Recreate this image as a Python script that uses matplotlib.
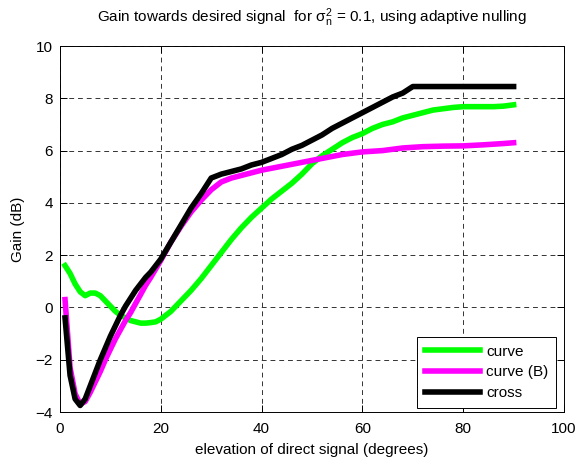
import matplotlib
matplotlib.use('Agg')
import matplotlib.pyplot as plt

# data
X_CURVE = [1, 2, 3, 4, 5, 6, 7, 8, 9, 10, 11, 12, 13, 14, 15, 16, 17, 18, 19, 20,
           21, 22, 23, 24, 25, 26, 28, 30, 32, 34, 36, 38, 40, 42, 44, 46, 48, 50,
           52, 54, 56, 58, 60, 62, 64, 66, 68, 70, 72, 74, 76, 78, 80, 82, 84, 86, 88, 90]
Y_CURVE = [1.6, 1.3, 0.9, 0.6, 0.45, 0.55, 0.55, 0.45, 0.25, 0.05, -0.15, -0.3, -0.4, -0.5,
           -0.55, -0.6, -0.6, -0.58, -0.55, -0.45, -0.3, -0.15, 0.05, 0.25, 0.45, 0.65, 1.1,
           1.6, 2.1, 2.6, 3.05, 3.45, 3.8, 4.15, 4.45, 4.75, 5.1, 5.5, 5.8, 6.05, 6.3, 6.5,
           6.65, 6.85, 7.0, 7.1, 7.25, 7.35, 7.45, 7.55, 7.6, 7.65, 7.68, 7.68, 7.68, 7.68,
           7.7, 7.75]

X_CURVE_B = [1, 2, 3, 4, 5, 6, 7, 8, 9, 10, 11, 12, 13, 14, 15, 16, 17, 18, 20, 22, 24,
             26, 28, 30, 32, 34, 36, 38, 40, 44, 48, 52, 56, 60, 64, 68, 72, 76, 80, 84, 88, 90]
Y_CURVE_B = [0.3, -2.3, -3.3, -3.7, -3.6, -3.25, -2.85, -2.45, -2.0, -1.6, -1.2, -0.85, -0.5,
             -0.2, 0.15, 0.5, 0.85, 1.15, 1.8, 2.5, 3.1, 3.65, 4.1, 4.5, 4.8, 4.95, 5.05,
             5.15, 5.25, 5.4, 5.55, 5.7, 5.85, 5.95, 6.0, 6.1, 6.15, 6.17, 6.18, 6.22, 6.27, 6.3]

X_CROSS = [1, 2, 3, 4, 5, 6, 7, 8, 9, 10, 11, 12, 13, 14, 15, 16, 17, 18, 19, 20, 22, 24,
           26, 28, 30, 32, 34, 36, 38, 40, 42, 44, 46, 48, 50, 52, 54, 56, 58, 60, 62, 64,
           66, 68, 70, 75, 80, 85, 90]
Y_CROSS = [-0.4, -2.6, -3.5, -3.75, -3.5, -3.0, -2.5, -2.0, -1.55, -1.1, -0.7, -0.3, 0.05,
           0.35, 0.65, 0.9, 1.15, 1.35, 1.6, 1.85, 2.5, 3.15, 3.8, 4.35, 4.95, 5.1, 5.2, 5.3,
           5.45, 5.55, 5.7, 5.85, 6.05, 6.2, 6.4, 6.6, 6.85, 7.05, 7.25, 7.45, 7.65, 7.85,
           8.05, 8.2, 8.45, 8.45, 8.45, 8.45, 8.45]

X_TICKS = [0, 20, 40, 60, 80, 100]
Y_TICKS = [-4, -2, 0, 2, 4, 6, 8, 10]

plt.rcParams['font.family'] = ['Liberation Sans', 'DejaVu Sans']
plt.rcParams['mathtext.fontset'] = 'custom'
plt.rcParams['mathtext.rm'] = 'Liberation Sans'
plt.rcParams['mathtext.it'] = 'Liberation Sans'
FS = 11

fig = plt.figure(figsize=(5.78, 4.62), dpi=100)
ax = fig.add_axes([0.1038, 0.1082, 0.872, 0.7922])

ax.plot(X_CURVE, Y_CURVE, color='#00ff00', lw=4, label='curve')
ax.plot(X_CURVE_B, Y_CURVE_B, color='#ff00ff', lw=4, label='curve (B)')
ax.plot(X_CROSS, Y_CROSS, color='black', lw=4, label='cross')

ax.set_xlim(0, 100)
ax.set_ylim(-4, 10)
ax.set_xticks(X_TICKS)
ax.set_yticks(Y_TICKS)
ax.grid(True, color='#333333', linestyle=(0, (5, 4)), linewidth=0.7)
ax.tick_params(direction='in', top=True, right=True, length=5, width=0.7,
               labelsize=FS)
ax.tick_params(axis='x', pad=7)
ax.tick_params(axis='y', pad=5)
for sp in ax.spines.values():
    sp.set_linewidth(0.7)

ax.set_xlabel('elevation of direct signal (degrees)', fontsize=FS, labelpad=5)
ax.set_ylabel('Gain (dB)', fontsize=FS, labelpad=8)
ax.set_title(r'Gain towards desired signal  for $\sigma_n^2$ = 0.1, using adaptive nulling',
             fontsize=FS, pad=17)

leg = ax.legend(loc='lower right', fontsize=FS, fancybox=False, framealpha=1,
                edgecolor='black', handlelength=3.6, borderpad=0.5, labelspacing=0.45,
                handletextpad=0.4, borderaxespad=0, bbox_to_anchor=(0.984, 0.011))
leg.get_frame().set_linewidth(0.7)

fig.savefig('out.png', dpi=100)
